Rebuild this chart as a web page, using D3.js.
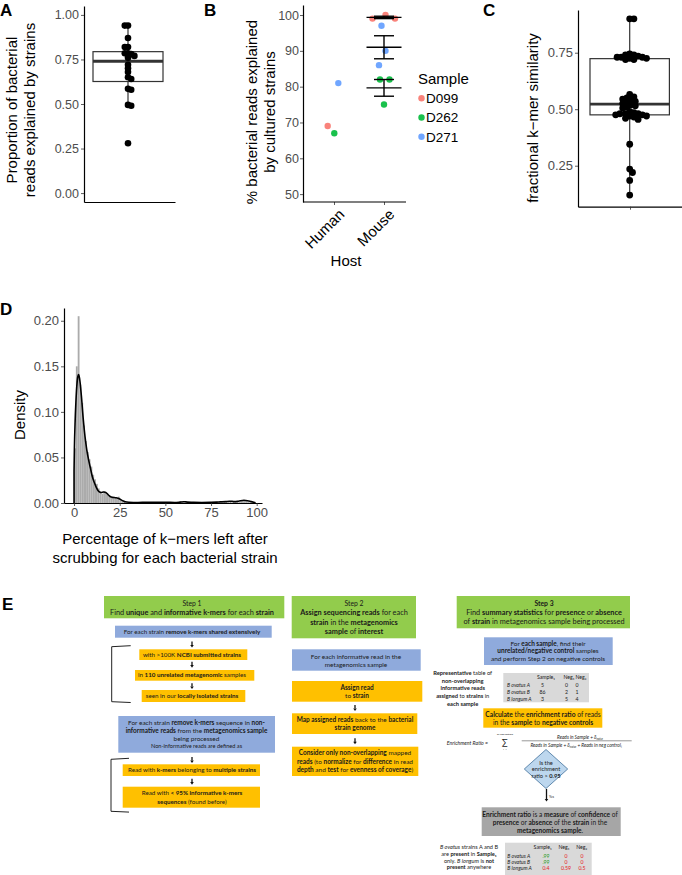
<!DOCTYPE html>
<html><head><meta charset="utf-8">
<script src="https://cdn.jsdelivr.net/npm/d3@7/dist/d3.min.js"></script>
<style>
body{margin:0;background:#fff}
svg{display:block}
text{font-family:"Liberation Sans",Arial,sans-serif}
</style>
</head><body>
<svg id="chart" width="682" height="875"></svg>
<script>
// ---------------- DATA ----------------
// Panel A: proportion of bacterial reads explained by strains
const propExplained = [0.28,0.49,0.495,0.58,0.585,0.64,0.65,0.68,0.70,0.72,0.76,0.77,0.78,0.785,0.785,0.82,0.82,0.87,0.94,0.94];
const ticksA = [0.00,0.25,0.50,0.75,1.00];

// Panel B: % bacterial reads explained by cultured strains
const hostCats = ["Human","Mouse"];
const sampleCats = ["D099","D262","D271"];
const sampleColors = ["#F8766D","#00BA38","#619CFF"];
const hostB   = ["Human","Human","Human","Mouse","Mouse","Mouse","Mouse","Mouse","Mouse","Mouse","Mouse","Mouse"];
const sampleB = ["D271","D099","D262","D099","D099","D099","D271","D271","D271","D262","D262","D262"];
const valueB  = [81,69,67,99,100,99,97,90,86,82,82,75];
const jitterB = [0.086,-0.126,0.006,-0.23,0.03,0.22,-0.05,0.03,-0.10,-0.08,0.11,0.0];
const ticksB = [50,60,70,80,90,100];

// Panel C: fractional k-mer similarity
const kmerSimilarity = [0.12,0.185,0.22,0.235,0.345,
  0.455,0.46,0.465,0.47,0.47,0.475,0.475,0.48,0.48,0.48,0.485,0.49,
  0.505,0.51,0.515,0.52,0.525,0.53,0.535,0.54,0.545,0.55,0.555,0.565,
  0.72,0.72,0.725,0.725,0.73,0.73,0.73,0.735,0.74,0.74,0.745,
  0.90,0.90];
const ticksC = [0.25,0.50,0.75];

// Panel D: histogram (bin width 1) + density of % k-mers left after scrubbing
const histBinStart = d3.range(0,100);
const histDensity = [0.06,0.15,0.205,0.13,0.11,0.085,0.068,0.056,0.048,0.04,
  0.031,0.026,0.021,0.016,0.012,0.010,0.013,0.012,0.010,0.008,
  0.006,0.007,0.006,0.005,0.007,0.004,0.002,0.002,0.001,0.001,
  0,0.001,0,0,0.001,0,0,0,0.001,0,
  0,0,0.001,0,0,0,0,0.001,0,0,
  0.001,0,0,0,0,0,0,0.001,0.002,0.001,
  0,0,0.001,0,0,0,0,0,0.001,0,
  0,0,0,0.001,0,0,0.001,0,0.001,0.001,
  0,0,0.001,0.002,0.001,0.002,0,0.001,0.001,0.002,
  0.001,0.002,0.003,0.003,0.002,0.001,0.001,0.001,0,0];
const densX = [0,0.2,0.6,1,1.5,2,2.5,3,4,5,6,7,8,9,10,11,12,13,14,15,16,17,18,19,20,21,22,23,24,25,26,27,28,30,35,40,45,50,55,58,60,62,65,70,75,78,80,83,85,88,90,93,95,97,99];
const densY = [0.035,0.06,0.09,0.11,0.128,0.138,0.141,0.137,0.118,0.093,0.073,0.058,0.047,0.038,0.029,0.023,0.018,0.014,0.012,0.0115,0.012,0.0118,0.0105,0.0085,0.0068,0.0062,0.006,0.0057,0.0052,0.0043,0.0032,0.0022,0.0013,0.0008,0.0006,0.0007,0.0007,0.0009,0.0006,0.001,0.0014,0.001,0.0008,0.0006,0.0008,0.001,0.0012,0.0015,0.002,0.0015,0.002,0.003,0.0025,0.0015,0.0005];
const ticksDx = [0,25,50,75,100];
const ticksDy = [0.00,0.05,0.10,0.15,0.20];

// ---------------- HELPERS ----------------
const svg = d3.select("#chart");
const tickCol = "#4D4D4D";
const lineCol = "#333333";

function styleAxis(g, fs){
  g.select(".domain").attr("stroke","#000").attr("stroke-width",1.2);
  g.selectAll(".tick line").attr("stroke",lineCol).attr("stroke-width",0.8);
  g.selectAll(".tick text").attr("fill",tickCol).style("font-size",fs+"px").style("font-family","Liberation Sans, Arial, sans-serif");
}
function panelLabel(x,y,t){
  svg.append("text").attr("x",x).attr("y",y).text(t).style("font-size","17px").style("font-weight","bold").attr("fill","#000");
}
function rotTitle(x,y,lines,fs){
  const t = svg.append("text").attr("transform",`translate(${x},${y}) rotate(-90)`).attr("text-anchor","middle").style("font-size",fs+"px").attr("fill","#000");
  lines.forEach((l,i)=>t.append("tspan").attr("x",0).attr("dy",i===0?0:fs*1.2).text(l));
}
function swarm(values, yScale, cx, minDist, step){
  const pts = values.map(v=>({v, y:yScale(v)})).sort((a,b)=>b.v-a.v);
  const placed = [];
  pts.forEach(p=>{
    const offs=[0]; for(let i=1;i<40;i++){offs.push(i*step,-i*step);}
    for(const o of offs){
      const x = cx+o;
      if(placed.every(q=>(q.x-x)**2+(q.y-p.y)**2 >= minDist*minDist)){p.x=x;break;}
    }
    placed.push(p);
  });
  return placed;
}
function boxStats(vals){
  const s = vals.slice().sort(d3.ascending);
  const q1=d3.quantileSorted(s,0.25), med=d3.quantileSorted(s,0.5), q3=d3.quantileSorted(s,0.75);
  const iqr=q3-q1;
  const lo=d3.min(s.filter(v=>v>=q1-1.5*iqr)), hi=d3.max(s.filter(v=>v<=q3+1.5*iqr));
  return {q1,med,q3,lo,hi};
}
function drawBox(y, st, cx, hw){
  const g = svg.append("g");
  g.append("line").attr("x1",cx).attr("x2",cx).attr("y1",y(st.hi)).attr("y2",y(st.q3)).attr("stroke",lineCol).attr("stroke-width",1.2);
  g.append("line").attr("x1",cx).attr("x2",cx).attr("y1",y(st.q1)).attr("y2",y(st.lo)).attr("stroke",lineCol).attr("stroke-width",1.2);
  g.append("rect").attr("x",cx-hw).attr("width",2*hw).attr("y",y(st.q3)).attr("height",y(st.q1)-y(st.q3))
    .attr("fill","#fff").attr("stroke",lineCol).attr("stroke-width",1.2);
  g.append("line").attr("x1",cx-hw).attr("x2",cx+hw).attr("y1",y(st.med)).attr("y2",y(st.med)).attr("stroke",lineCol).attr("stroke-width",2.8);
}

// ---------------- PANEL A ----------------
panelLabel(0,16,"A");
const yA = d3.scaleLinear().domain([-0.05,1.05]).range([202,6]);
const xA = d3.scalePoint().domain(["all"]).range([84,175]).padding(0.5);
const gAy = svg.append("g").attr("transform","translate(84,0)").call(d3.axisLeft(yA).tickValues(ticksA).tickFormat(d3.format(".2f")).tickSize(3).tickSizeOuter(0).tickPadding(2));
styleAxis(gAy,12.5);
const gAx = svg.append("g").attr("transform","translate(0,202)").call(d3.axisBottom(xA).tickSize(0).tickSizeOuter(0).tickFormat(""));
styleAxis(gAx,12);
rotTitle(17,110,["Proportion of bacterial","reads explained by strains"],15);
const cxA = 128;
const stA = boxStats(propExplained);
drawBox(yA, stA, cxA, 35);
svg.append("g").selectAll("circle").data(swarm(propExplained.filter(v=>v>=stA.lo), yA, cxA, 3.2, 1.6).concat(propExplained.filter(v=>v<stA.lo).map(v=>({v,y:yA(v),x:cxA}))))
  .join("circle").attr("cx",d=>d.x).attr("cy",d=>d.y).attr("r",3.3).attr("fill","#000");

// ---------------- PANEL B ----------------
panelLabel(204,16,"B");
const yB = d3.scaleLinear().domain([47.8,102.8]).range([202,5]);
const xB = d3.scalePoint().domain(hostCats).range([334,384]);
const colB = d3.scaleOrdinal().domain(sampleCats).range(sampleColors);
const gBy = svg.append("g").attr("transform","translate(303,0)").call(d3.axisLeft(yB).tickValues(ticksB).tickSize(3).tickSizeOuter(0).tickPadding(1));
styleAxis(gBy,12.5);
const gBx = svg.append("g").attr("transform","translate(0,202)").call(d3.axisBottom(xB).tickSize(3).tickSizeOuter(0).tickFormat(""));
styleAxis(gBx,12);
gBx.select(".domain").remove();
svg.append("line").attr("x1",303).attr("x2",406).attr("y1",202).attr("y2",202).attr("stroke","#000").attr("stroke-width",1.2);
hostCats.forEach(h=>{
  svg.append("text").attr("transform",`translate(${xB(h)+4},${208}) rotate(-45)`).attr("text-anchor","end").attr("dy","0.7em")
    .style("font-size","15px").attr("fill","#000").text(h);
});
svg.append("text").attr("x",346).attr("y",266).attr("text-anchor","middle").style("font-size","15px").text("Host");
rotTitle(257,112,["% bacterial reads explained","by cultured strains"],15);
const stepB = 50;
svg.append("g").selectAll("circle").data(valueB.map((v,i)=>({v,h:hostB[i],s:sampleB[i],j:jitterB[i]})))
  .join("circle").attr("cx",d=>xB(d.h)+d.j*stepB).attr("cy",d=>yB(d.v)).attr("r",3.2).attr("fill",d=>colB(d.s)).attr("opacity",0.9);
// mean +/- SE for mouse samples
sampleCats.forEach(s=>{
  const vals = valueB.filter((v,i)=>hostB[i]==="Mouse"&&sampleB[i]===s);
  const m = d3.mean(vals), se = d3.deviation(vals)/Math.sqrt(vals.length);
  const cx = xB("Mouse");
  const g = svg.append("g").attr("stroke","#000").attr("stroke-width",1.4);
  g.append("line").attr("x1",cx).attr("x2",cx).attr("y1",yB(m+se)).attr("y2",yB(m-se));
  g.append("line").attr("x1",cx-10).attr("x2",cx+10).attr("y1",yB(m+se)).attr("y2",yB(m+se));
  g.append("line").attr("x1",cx-10).attr("x2",cx+10).attr("y1",yB(m-se)).attr("y2",yB(m-se));
  g.append("line").attr("x1",cx-17.5).attr("x2",cx+17.5).attr("y1",yB(m)).attr("y2",yB(m));
});
// legend
svg.append("text").attr("x",418).attr("y",84).style("font-size","15px").text("Sample");
sampleCats.forEach((s,i)=>{
  const y = 98.3+i*19.2;
  svg.append("circle").attr("cx",421.5).attr("cy",y).attr("r",3.2).attr("fill",colB(s)).attr("opacity",0.9);
  svg.append("text").attr("x",426).attr("y",y).attr("dy","0.36em").style("font-size","13.5px").text(s);
});

// ---------------- PANEL C ----------------
panelLabel(483,16,"C");
const yC = d3.scaleLinear().domain([0.0686,0.939]).range([206.7,10]);
const xC = d3.scalePoint().domain(["all"]).range([578,682]).padding(0.5);
const gCy = svg.append("g").attr("transform","translate(578,0)").call(d3.axisLeft(yC).tickValues(ticksC).tickFormat(d3.format(".2f")).tickSize(3).tickSizeOuter(0).tickPadding(2));
styleAxis(gCy,13);
const gCx = svg.append("g").attr("transform","translate(0,206.7)").call(d3.axisBottom(xC).tickSize(3).tickSizeOuter(0).tickFormat(""));
styleAxis(gCx,12);
rotTitle(538,118,["fractional k\u2212mer similarity"],15);
const cxC = 629.7;
const stC = boxStats(kmerSimilarity);
drawBox(yC, stC, cxC, 39.7);
svg.append("g").selectAll("circle").data(swarm(kmerSimilarity, yC, cxC, 4.2, 1.4))
  .join("circle").attr("cx",d=>d.x).attr("cy",d=>d.y).attr("r",3.4).attr("fill","#000");

// ---------------- PANEL D ----------------
panelLabel(0,315,"D");
const xD = d3.scaleLinear().domain([-5.5,102.9]).range([64,262]);
const yD = d3.scaleLinear().domain([0,0.214]).range([503,308]);
svg.append("g").selectAll("rect").data(histBinStart.map((b,i)=>({b,d:histDensity[i]})).filter(d=>d.d>0))
  .join("rect").attr("x",d=>xD(d.b)).attr("width",d=>xD(d.b+1)-xD(d.b)).attr("y",d=>yD(d.d)).attr("height",d=>yD(0)-yD(d.d))
  .attr("fill","#ABABAB").attr("stroke","none");
const densPts = densX.map((x,i)=>[x,densY[i]]);
const lineD = d3.line().x(d=>xD(d[0])).y(d=>yD(d[1])).curve(d3.curveMonotoneX);
const densPath = lineD(densPts);
svg.append("path").attr("d",`M${xD(densX[0])},${yD(0)}L`+densPath.slice(1)+`L${xD(densX[densX.length-1])},${yD(0)}`)
  .attr("fill","none").attr("stroke","#000").attr("stroke-width",1.6);
const gDy = svg.append("g").attr("transform","translate(64,0)").call(d3.axisLeft(yD).tickValues(ticksDy).tickFormat(d3.format(".2f")).tickSize(3).tickSizeOuter(0).tickPadding(2));
styleAxis(gDy,13);
const gDx = svg.append("g").attr("transform","translate(0,503)").call(d3.axisBottom(xD).tickValues(ticksDx).tickSize(3).tickSizeOuter(0).tickPadding(2));
styleAxis(gDx,13);
rotTitle(25,415,["Density"],15);
const tD = svg.append("text").attr("x",165).attr("y",544).attr("text-anchor","middle").style("font-size","15px");
tD.append("tspan").attr("x",165).text("Percentage of k\u2212mers left after");
tD.append("tspan").attr("x",165).attr("dy",19).text("scrubbing for each bacterial strain");

// ---------------- PANEL E (workflow diagram) ----------------
panelLabel(2,610,"E");
const diagFont = "Lato, 'Open Sans', sans-serif";
const FS = 1.08; // font scale for diagram
const GREEN="#92CC4C", BLUE="#8FAADC", ORANGE="#FFC000", LGRAY="#D9D9D9", DGRAY="#A6A6A6";
const gE = svg.append("g");
function rich(x,y,str,size,anchor,color){
  const t = gE.append("text").attr("x",x).attr("y",y).attr("dy","0.35em").attr("text-anchor",anchor||"middle")
    .style("font-size",(size*FS)+"px").style("font-family",diagFont).attr("fill",color||"#1a1a1a");
  str.split(/(\*\*.+?\*\*|__.+?__)/).filter(s=>s.length).forEach(s=>{
    const ts=t.append("tspan");
    if(s.startsWith("**")) ts.attr("font-weight","bold").text(s.slice(2,-2));
    else if(s.startsWith("__")) ts.attr("font-style","italic").text(s.slice(2,-2));
    else ts.text(s);
  });
  return t;
}
function box(x0,y0,x1,y1,fill,lines,cx,size){
  gE.append("rect").attr("x",x0).attr("y",y0).attr("width",x1-x0).attr("height",y1-y0).attr("fill",fill);
  lines.forEach(l=>rich(cx!==undefined?cx:(x0+x1)/2,l[1],l[0],l[2]||size));
}
function arrow(x,y0,y1){
  gE.append("line").attr("x1",x).attr("x2",x).attr("y1",y0).attr("y2",y1-2.4).attr("stroke","#111").attr("stroke-width",1.3);
  gE.append("path").attr("d",`M${x-1.8},${y1-2.6}L${x+1.8},${y1-2.6}L${x},${y1}Z`).attr("fill","#111");
}
function bracket(x,y0,y1,xe0,xe1){
  gE.append("path").attr("d",`M${xe0},${y0-1}L${x},${y0}L${x},${y1}L${xe1},${y1+0.8}`).attr("fill","none").attr("stroke","#222").attr("stroke-width",1);
}
// Step 1
box(104,596,284.3,618.3,GREEN,[["Step 1",603.3,6.3],["Find **unique** and **informative k-mers** for each **strain**",612.3,6.8]],192);
box(115,625.7,271.7,637.7,BLUE,[["For each strain **remove k-mers shared extensively**",631.5,5.8]],192);
arrow(192,641.5,647.5);
box(139.3,649.3,247.3,660,ORANGE,[["with >100K **NCBI submitted strains**",655,5.8]],192);
arrow(192,661.7,667.7);
box(135,670,254.3,680.7,ORANGE,[["in **110 unrelated metagenomic** samples",675.3,5.8]],192);
arrow(192,683.3,689);
box(141.7,690,245.3,702,ORANGE,[["seen in our **locally isolated strains**",695.7,5.8]],192);
bracket(111.7,646.7,701.7,130.7,130.7);
box(118.3,716,275,752.7,BLUE,[["For each strain **remove k-mers** sequence in **non-**",722.7,6],["**informative reads** from the **metagenomics sample**",730.7,6],["being processed",738.5,6],["Non-informative reads are defined as",745.7,5.2]],196.5);
arrow(192,757,763);
box(122.7,764.3,260,776,ORANGE,[["Read with **k-mers** belonging to **multiple strains**",770.3,5.8]],192);
arrow(192,778.7,784.7);
box(122.7,786.7,260,807.7,ORANGE,[["Read with **< 95% informative k-mers**",793.3,5.8],["**sequences** (found before)",802.3,5.8]],192);
bracket(111,759.3,811.3,129,129);
// Step 2
box(291.7,596,416,638.3,GREEN,[["Step 2",603.3,6.3],["**Assign sequencing reads** for each",612.8,6.8],["**strain** in the **metagenomics**",622.3,6.8],["**sample** of **interest**",631.8,6.8]],354);
box(292,649.3,420.7,670.7,BLUE,[["For each informative read in the",656.7,6],["metagenomics sample",664.3,6]],356);
box(292,681,422.3,701.7,ORANGE,[["**Assign read**",687.3,6],["to **strain**",695.7,6]],357);
arrow(355,705,711);
box(292,713.3,417.3,734,ORANGE,[["**Map assigned reads** back to the **bacterial**",719.8,6],["**strain genome**",728.2,6]],355);
arrow(355,738.3,744.3);
box(292,746.7,418.3,776,ORANGE,[["**Consider only non-overlapping** mapped",752.9,6],["**reads** (to **normalize** for **difference** in read",761.5,6],["**depth** and **test** for **evenness of coverage**)",770.2,6]],355);
// Step 3
box(456.7,596,630,628.3,GREEN,[["**Step 3**",603.3,6.3],["Find **summary statistics** for **presence** or **absence**",612.3,6.8],["of **strain** in metagenomics sample being processed",621.7,6.8]],544);
box(484,637.3,612.7,665,BLUE,[["For **each sample**, find their",643.5,6],["**unrelated/negative control** samples",650.9,6],["and perform Step 2 on negative controls",658.3,6]],548);
[["**Representative** table of",673.3],["**non-overlapping**",681],["**informative reads**",688.4],["**assigned** to **strains** in",696],["**each sample**",703.7]].forEach(l=>rich(462.7,l[1],l[0],5.3));
// table 1
gE.append("rect").attr("x",503.3).attr("y",673).attr("width",85.7).attr("height",29.3).attr("fill",LGRAY);
const tblCols1 = [546,569,581];
const tblCols2 = [546,566,582];
const tblHead = ["Sample\u2081","Neg\u2081","Neg\u2082"];
const tblRows = ["B ovatus A","B ovatus B","B longum A"];
const tblCounts = [[5,0,0],[86,2,1],[3,5,4]];
const tblRatio = [[".99","0","0"],[".99","0","0"],["0.4","0.59","0.5"]];
const tblRatioCol = [["#2E9E2E","#E52020","#E52020"],["#2E9E2E","#E52020","#E52020"],["#E52020","#E52020","#E52020"]];
tblHead.forEach((h,i)=>rich(tblCols1[i],676.7,h,4.8));
tblRows.forEach((r,ri)=>{
  rich(507,685+ri*7.1,"__"+r+"__",4.8,"start");
  tblCounts[ri].forEach((c,ci)=>rich([542.5,566.5,577][ci],685+ri*7.1,String(c),4.8));
});
box(483.3,708.3,602.3,727.7,ORANGE,[["**Calculate** the **enrichment ratio** of reads",714.2,6.2],["in the **sample** to **negative controls**",722.2,6.2]],543);
// formula
rich(488,742.7,"__Enrichment Ratio =__",4.8,"end");
rich(505,742.3,"\u2211",8);
rich(505,734.2,"__all neg controls__",2.4);
rich(505,748.8,"__i=1__",2.4);
const num = rich(580,737.3,"__Reads in Sample + \u03b4__",4.4);
num.append("tspan").attr("font-style","italic").attr("font-size","3px").attr("dy","1").text("noise");
gE.append("line").attr("x1",521.7).attr("x2",631.7).attr("y1",740.8).attr("y2",740.8).attr("stroke","#333").attr("stroke-width",0.5);
const den = rich(576,745.3,"__Reads in Sample + \u03b4__",4.4);
den.append("tspan").attr("font-style","italic").attr("font-size","3px").attr("dy","1").text("noise");
den.append("tspan").attr("font-style","italic").attr("dy","-1").text(" + Reads in neg control");
den.append("tspan").attr("font-style","italic").attr("font-size","3px").attr("dy","1").text("i");
// diamond
gE.append("path").attr("d","M546,749.5L567.7,769L546,788.5L524.3,769Z").attr("fill","#BDD7EE").attr("stroke","#41719C").attr("stroke-width",0.8);
rich(546,762.7,"Is the",5.3); rich(546,769.3,"enrichment",5.3); rich(546,776,"ratio > **0.95**",5.3);
arrow(546.5,789,801.5);
rich(549,797,"Yes",3.2,"start");
box(481.7,807.3,620.7,836,DGRAY,[["**Enrichment ratio** is a **measure** of **confidence** of",814.3,6.1],["**presence** or **absence** of the **strain** in the",822.6,6.1],["**metagenomics sample**.",830.7,6.1]],550);
[["__B ovatus__ strains A and B",847.3],["are **present** in **Sample\u2081**",854],["only. __B longum__ is **not**",860.7],["**present** anywhere",866.7]].forEach(l=>rich(469,l[1],l[0],5.2));
gE.append("rect").attr("x",505).attr("y",842.7).attr("width",86.7).attr("height",32.3).attr("fill",LGRAY);
[542.7,564,581.7].forEach((x,i)=>rich(x,847.5,tblHead[i],4.8));
tblRows.forEach((r,ri)=>{
  rich(507.3,855.7+ri*6,"__"+r+"__",4.8,"start");
  tblRatio[ri].forEach((c,ci)=>rich(tblCols2[ci],855.7+ri*6,c,4.8,"middle",tblRatioCol[ri][ci]));
});
</script>
</body></html>
